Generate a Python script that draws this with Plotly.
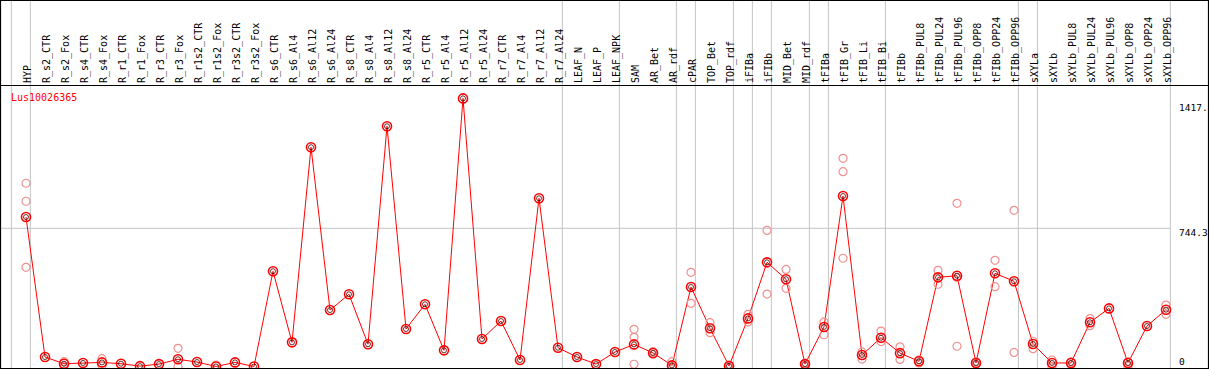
import plotly.graph_objects as go

categories = ["HYP", "R_s2_CTR", "R_s2_Fox", "R_s4_CTR", "R_s4_Fox", "R_r1_CTR", "R_r1_Fox",
              "R_r3_CTR", "R_r3_Fox", "R_r1s2_CTR", "R_r1s2_Fox", "R_r3s2_CTR", "R_r3s2_Fox",
              "R_s6_CTR", "R_s6_Al4", "R_s6_Al12", "R_s6_Al24", "R_s8_CTR", "R_s8_Al4", "R_s8_Al12",
              "R_s8_Al24", "R_r5_CTR", "R_r5_Al4", "R_r5_Al12", "R_r5_Al24", "R_r7_CTR", "R_r7_Al4",
              "R_r7_Al12", "R_r7_Al24", "LEAF_N", "LEAF_P", "LEAF_NPK", "SAM", "AR_Bet", "AR_rdf",
              "cPAR", "TOP_Bet", "TOP_rdf", "iFIBa", "iFIBb", "MID_Bet", "MID_rdf", "tFIBa",
              "tFIB_Gr", "tFIB_Li", "tFIB_Bi", "tFIBb", "tFIBb_PUL8", "tFIBb_PUL24", "tFIBb_PUL96",
              "tFIBb_OPP8", "tFIBb_OPP24", "tFIBb_OPP96", "sXYLa", "sXYLb", "sXYLb_PUL8",
              "sXYLb_PUL24", "sXYLb_PUL96", "sXYLb_OPP8", "sXYLb_OPP24", "sXYLb_OPP96"]

means = [805, 51, 15, 19, 22, 15, 2, 13, 39, 24, 0, 22, 0,
         513, 130, 1181, 304, 389, 120, 1294, 202, 335, 87, 1444, 148, 245, 35, 906, 101,
         51, 13, 78, 119, 73, 6, 428, 206, 3, 259, 561, 470, 13, 213,
         918, 62, 155, 72, 28, 480, 489, 19, 502, 459, 121, 19, 19,
         238, 313, 19, 218, 306]

N = None
rep_a = [987, N, 26, N, 42, N, N, N, 98, N, 8, N, N,
         N, N, N, N, N, N, N, N, N, N, N, N, N, N, N, N,
         N, N, N, 200, 80, 26, 507, 236, 8, 281, 733, 523, 18, 240,
         1121, 78, 191, 106, 36, 518, 879, 25, 572, 841, 136, 35, 25,
         258, N, 25, N, 331]
rep_b = [890, N, 2, N, 5, N, N, N, 0, N, N, N, N,
         N, N, N, N, N, N, N, N, N, N, N, N, N, N, N, N,
         N, N, N, 157, 66, 0, 340, 182, 0, 240, 390, 421, 8, 171,
         1049, 40, 134, 38, 19, 443, 109, 12, 430, 76, 96, 0, 10,
         220, N, 0, N, 281]
rep_c = [534, N, N, N, N, N, N, N, N, N, N, N, N,
         N, N, N, N, N, N, N, N, N, N, N, N, N, N, N, N,
         N, N, N, 12, N, N, N, N, N, N, N, N, N, N,
         583, N, N, N, N, N, 479, N, N, N, N, N, N,
         N, N, N, N, N]

group_ends = ["HYP", "R_r7_Al24", "LEAF_NPK", "AR_rdf", "cPAR", "TOP_rdf", "iFIBa", "iFIBb",
              "MID_rdf", "tFIBa", "tFIB_Bi", "tFIBb_OPP96", "sXYLa", "sXYLb_OPP96"]

y_tick_vals = [1417, 744.3, 0]
y_tick_text = ["1417.", "744.3", "0"]
gene = "Lus10026365"

W, H = 1209, 370
ML, MR, MT, MB = 1, 1, 86, 2
PW, PH = W - ML - MR, H - MT - MB
XR = [-1.316, 62.21]
YR = [(366.5 - 368) / 0.18568, (366.5 - 86) / 0.18568]

def px_x(px):
    return (px - ML) / PW

def px_y(py):
    return (H - MB - py) / PH

font = "DejaVu Sans Mono"
fig = go.Figure()

reps_x, reps_y = [], []
for lst in (rep_a, rep_b, rep_c):
    for c, v in zip(categories, lst):
        if v is not None:
            reps_x.append(c)
            reps_y.append(v)

fig.add_trace(go.Scatter(x=categories, y=means, mode="lines",
                         line=dict(color="#ff0000", width=1), hoverinfo="skip"))
fig.add_trace(go.Scatter(x=reps_x, y=reps_y, mode="markers",
                         marker=dict(symbol="circle-open", size=8, color="#f09090",
                                     line=dict(width=1.2, color="#f09090"))))
fig.add_trace(go.Scatter(x=categories, y=means, mode="markers",
                         marker=dict(symbol="circle-open", size=9, color="#ff0000",
                                     line=dict(width=1.6, color="#ff0000"))))
fig.add_trace(go.Scatter(x=categories, y=means, mode="markers",
                         marker=dict(symbol="circle-open", size=5, color="#400000",
                                     line=dict(width=0.8, color="#400000"))))

shapes = []
idx = {c: i for i, c in enumerate(categories)}
vlines = [-1] + [idx[c] for c in group_ends]
for i in vlines:
    shapes.append(dict(type="line", xref="x", yref="paper", x0=i + 0.23, x1=i + 0.23,
                       y0=px_y(369), y1=px_y(0), line=dict(color="#c4c4c4", width=1),
                       layer="below"))
shapes.append(dict(type="line", xref="x", yref="y", x0=XR[0], x1=idx["sXYLb_OPP96"] + 0.23,
                   y0=744.3, y1=744.3, line=dict(color="#c4c4c4", width=1), layer="below"))
# frame
shapes.append(dict(type="rect", xref="paper", yref="paper", x0=px_x(0.5), x1=px_x(1208.5),
                   y0=px_y(368.5), y1=px_y(0.5), line=dict(color="black", width=1.2)))
shapes.append(dict(type="line", xref="paper", yref="paper", x0=px_x(0.5), x1=px_x(1208.5),
                   y0=px_y(85.5), y1=px_y(85.5), line=dict(color="black", width=1.2)))

annotations = [dict(text=gene, xref="paper", yref="paper", x=px_x(9), y=px_y(97),
                    xanchor="left", yanchor="middle", showarrow=False,
                    font=dict(family=font, size=10, color="#ff0000"))]
shifts = [-4.0, -4.4, 5.0]
for v, t, s in zip(y_tick_vals, y_tick_text, shifts):
    annotations.append(dict(text=t, xref="paper", yref="y", x=px_x(1177), y=v,
                            xanchor="left", yanchor="middle", yshift=s, showarrow=False,
                            font=dict(family=font, size=9.5, color="black")))

fig.update_layout(
    width=W, height=H, margin=dict(l=ML, r=MR, t=MT, b=MB, pad=0, autoexpand=False),
    paper_bgcolor="white", plot_bgcolor="white", showlegend=False,
    shapes=shapes, annotations=annotations,
    xaxis=dict(type="category", categoryorder="array", categoryarray=categories,
               range=XR, side="top", tickangle=-90, showgrid=False, zeroline=False,
               showline=False, ticks="", tickfont=dict(family=font, size=10, color="black"),
               ticklabelshift=2, ticklabelstandoff=2,
               fixedrange=True, automargin=False),
    yaxis=dict(range=YR, showgrid=False, zeroline=False, showline=False,
               showticklabels=False, ticks="", fixedrange=True, automargin=False),
)

fig.write_html("out.html", config={"displayModeBar": False},
               post_script="document.body.style.margin='0';document.body.style.padding='0';")
